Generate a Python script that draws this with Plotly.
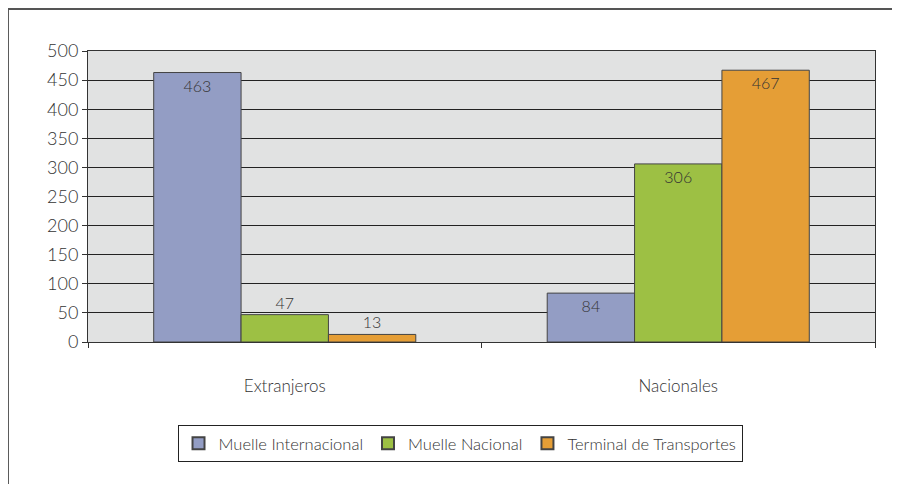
import plotly.graph_objects as go

categories = ["Extranjeros", "Nacionales"]
series_names = ["Muelle Internacional", "Muelle Nacional", "Terminal de Transportes"]
muelle_internacional = [463, 84]
muelle_nacional = [47, 306]
terminal_transportes = [13, 467]
y_ticks = [0, 50, 100, 150, 200, 250, 300, 350, 400, 450, 500]

colors = ["#939dc4", "#9dc044", "#e59e36"]
text_pos = [["inside", "inside"], ["outside", "inside"], ["outside", "inside"]]
FONT = "Lato, 'Open Sans', sans-serif"
TXT = "#333333"
W = 300

fig = go.Figure()
for name, vals, col, tp in zip(series_names,
                               [muelle_internacional, muelle_nacional, terminal_transportes],
                               colors, text_pos):
    fig.add_trace(go.Bar(
        x=categories, y=vals, name=name,
        marker=dict(color=col, line=dict(color="#444444", width=1)),
        text=[str(v) for v in vals], textposition=tp,
        insidetextanchor="end",
        textfont=dict(family=FONT, size=16, color=TXT, weight=W),
        insidetextfont=dict(family=FONT, size=16, color=TXT, weight=W),
        outsidetextfont=dict(family=FONT, size=16, color=TXT, weight=W),
        cliponaxis=False,
    ))

fig.update_layout(
    width=892, height=476,
    margin=dict(l=80, r=25, t=43, b=142),
    paper_bgcolor="white", plot_bgcolor="#e1e2e2",
    barmode="group", bargap=0.334, bargroupgap=0,
    font=dict(family=FONT, color=TXT, weight=W),
    showlegend=True,
    legend=dict(orientation="h", x=0.4727, xanchor="center", y=-0.285, yanchor="top",
                bordercolor="#222222", borderwidth=1, bgcolor="white",
                font=dict(family=FONT, size=16.5, color=TXT, weight=W),
                traceorder="normal", itemsizing="constant"),
)
fig.update_xaxes(
    showline=True, linecolor="#333333", linewidth=1, mirror=True,
    ticks="outside", ticklen=5, tickcolor="#333333", tickson="boundaries",
    tickfont=dict(family=FONT, size=17, color=TXT, weight=W),
    ticklabelstandoff=29, showgrid=False,
)
fig.update_yaxes(
    range=[0, 500], tickvals=y_ticks,
    showline=True, linecolor="#333333", linewidth=1, mirror=True,
    ticks="outside", ticklen=5, tickcolor="#333333",
    showgrid=True, gridcolor="#222222", gridwidth=1,
    tickfont=dict(family=FONT, size=18, color=TXT, weight=W),
    zeroline=False,
)
# outer frame (top and left edges)
fig.add_shape(type="line", xref="paper", yref="paper",
              x0=-0.1017, x1=1.04, y0=1.144, y1=1.144,
              line=dict(color="#555555", width=2))
fig.add_shape(type="line", xref="paper", yref="paper",
              x0=-0.1017, x1=-0.1017, y0=1.144, y1=-0.5,
              line=dict(color="#555555", width=2))

fig.write_html("out.html")
